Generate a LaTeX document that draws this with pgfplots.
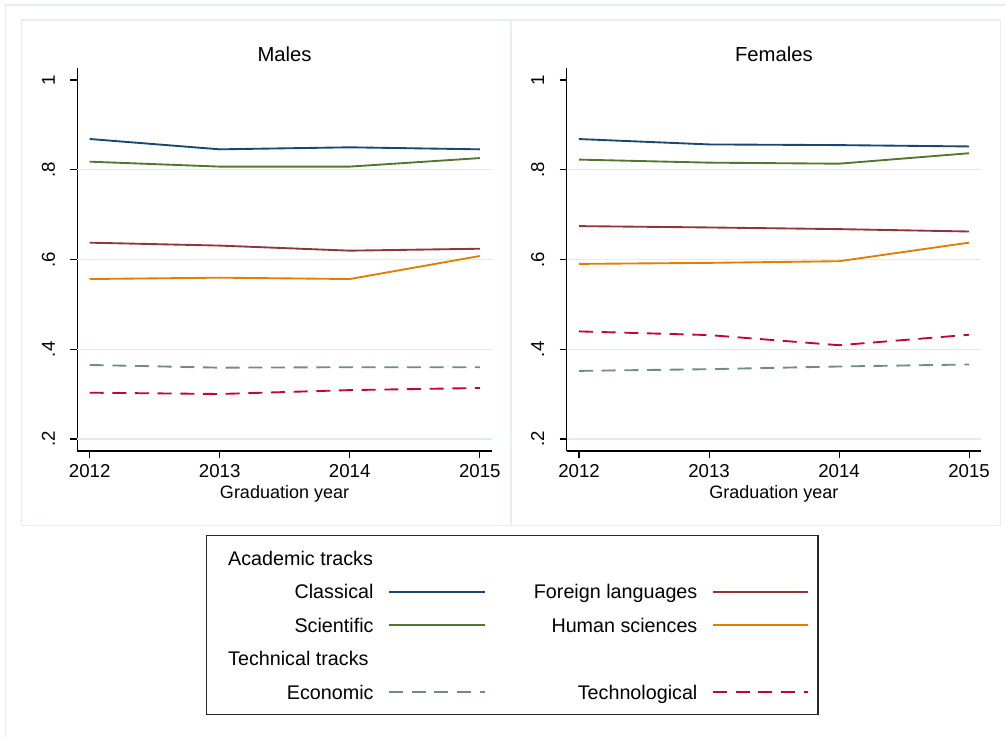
\documentclass[border=0pt]{standalone}
\usepackage{fontspec}
\setmainfont{Liberation Sans}
\usepackage{pgfplots}
\usepackage{pgfplotstable}
\pgfplotsset{compat=1.18}

% Stata s2color palette
\definecolor{stnavy}{RGB}{26,71,111}
\definecolor{stmaroon}{RGB}{144,53,59}
\definecolor{stgreen}{RGB}{85,117,47}
\definecolor{storange}{RGB}{227,126,0}
\definecolor{stteal}{RGB}{110,142,132}
\definecolor{stcran}{RGB}{193,5,52}
\definecolor{panelframe}{RGB}{230,238,240}
\definecolor{gridc}{RGB}{226,234,236}

% share of graduates by track and graduation year
\pgfplotstableread{
year classical scientific foreign human economic techno
2012 0.8685 0.818 0.6375 0.5565 0.365 0.3032
2013 0.8455 0.807 0.631  0.5595 0.359 0.3003
2014 0.850  0.807 0.6197 0.5565 0.360 0.309
2015 0.8455 0.826 0.624  0.6078 0.360 0.3137
}\males

\pgfplotstableread{
year classical scientific foreign human economic techno
2012 0.8684 0.8226 0.6744 0.5902 0.3518 0.4398
2013 0.8564 0.8158 0.6714 0.5925 0.3556 0.4316
2014 0.8549 0.8135 0.6677 0.5962 0.3616 0.4090
2015 0.8519 0.8368 0.6624 0.6376 0.3661 0.4323
}\females

\pgfplotsset{
  panel/.style={
    scale only axis, width=310.8pt, height=287pt,
    xmin=2011.905, xmax=2015.092, ymin=0.1733, ymax=1.026,
    axis lines*=left,
    axis line style={-, line width=0.9pt, black},
    xtick={2012,2013,2014,2015}, xticklabels={2012,2013,2014,2015},
    ytick={0.2,0.4,0.6,0.8,1}, yticklabels={.2,.4,.6,.8,1},
    tick align=outside, major tick length=5.25pt,
    tick style={line width=0.8pt, black},
    extra y ticks={0.2,0.4,0.6,0.8}, extra y tick labels={},
    extra y tick style={grid=major, major tick length=0pt},
    major grid style={gridc, line width=0.9pt},
    /pgf/number format/assume math mode=true,
    tick label style={font=\fontsize{14}{16}\selectfont},
    xticklabel style={anchor=base, yshift=-15pt},
    yticklabel style={xshift=-11.7pt, rotate=90, anchor=base},
    xlabel={Graduation year},
    xlabel style={font=\fontsize{13.5}{16}\selectfont, at={(axis description cs:0.5,0)}, anchor=base, yshift=-35.5pt},
    title style={font=\fontsize{15.2}{18}\selectfont, at={(axis description cs:0.5,1)}, anchor=center, yshift=4.7pt},
    every axis plot/.append style={line width=1.4pt},
  },
  econ/.style={stteal, line width=1.4pt, dash pattern=on 10.5pt off 6.5pt},
  tech/.style={stcran, line width=1.4pt, dash pattern=on 10.5pt off 6.5pt},
}

\begin{document}
\begin{tikzpicture}
\useasboundingbox (0,0) rectangle (754.5pt,553.5pt);
% graph region frames
\draw[panelframe, line width=0.9pt] (4.1pt,0pt) -- (4.1pt,549.75pt) -- (760pt,549.75pt);
\draw[panelframe, line width=0.9pt] (16pt,159.4pt) rectangle (383pt,538.5pt);
\draw[panelframe, line width=0.9pt] (383.8pt,159.4pt) rectangle (750.5pt,538.5pt);

\begin{axis}[panel, at={(58pt,215.25pt)}, anchor=south west, title={Males},
  legend columns=2, legend cell align=right, legend plot pos=right,
  legend image code/.code={\draw[#1] (0pt,0pt) -- (71.6pt,0pt);},
  legend style={at={(axis description cs:0.3098,-0.2195)}, anchor=north west,
    draw=black!85, line width=0.9pt, inner xsep=6.4pt, inner ysep=9.7pt,
    font=\fontsize{14.8}{17}\selectfont,
    nodes={inner sep=0pt, text height=12.5pt, text depth=2pt},
    row sep=10.6pt,
    /tikz/every odd column/.append style={column sep=11pt},
    /tikz/every even column/.append style={column sep=36.3pt}},
]
\addplot[stnavy, forget plot] table[x=year, y=classical] {\males};
\addplot[stgreen, forget plot] table[x=year, y=scientific] {\males};
\addplot[stmaroon, forget plot] table[x=year, y=foreign] {\males};
\addplot[storange, forget plot] table[x=year, y=human] {\males};
\addplot[econ, forget plot] table[x=year, y=economic] {\males};
\addplot[tech, forget plot] table[x=year, y=techno] {\males};

\addlegendimage{empty legend}
\addlegendentry{\makebox[119pt][l]{\hspace{10pt}Academic tracks}}
\addlegendimage{empty legend}
\addlegendentry{}
\addlegendimage{stnavy, line width=1.4pt}
\addlegendentry{Classical}
\addlegendimage{stmaroon, line width=1.4pt}
\addlegendentry{Foreign languages}
\addlegendimage{stgreen, line width=1.4pt}
\addlegendentry{Scientific}
\addlegendimage{storange, line width=1.4pt}
\addlegendentry{Human sciences}
\addlegendimage{empty legend}
\addlegendentry{\makebox[119pt][l]{\hspace{10pt}Technical tracks}}
\addlegendimage{empty legend}
\addlegendentry{}
\addlegendimage{econ}
\addlegendentry{Economic}
\addlegendimage{tech}
\addlegendentry{Technological}
\end{axis}

\begin{axis}[panel, at={(425pt,215.25pt)}, anchor=south west, title={Females}]
\addplot[stnavy] table[x=year, y=classical] {\females};
\addplot[stgreen] table[x=year, y=scientific] {\females};
\addplot[stmaroon] table[x=year, y=foreign] {\females};
\addplot[storange] table[x=year, y=human] {\females};
\addplot[econ] table[x=year, y=economic] {\females};
\addplot[tech] table[x=year, y=techno] {\females};
\end{axis}
\end{tikzpicture}
\end{document}
